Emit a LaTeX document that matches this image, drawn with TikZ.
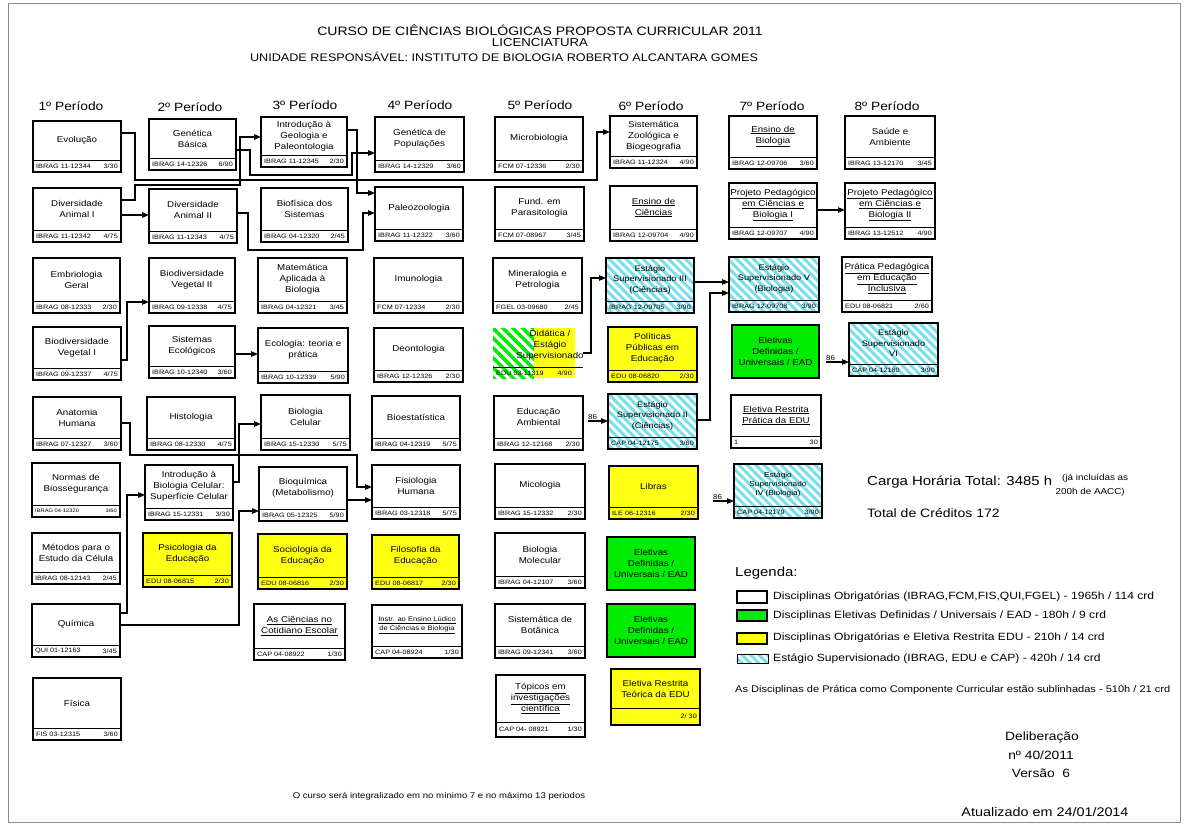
\documentclass[tikz,border=0pt]{standalone}
\usepackage{fontspec}
\setmainfont{Liberation Sans}[FakeStretch=1.15]
\usetikzlibrary{arrows.meta,patterns.meta}
\definecolor{yel}{RGB}{255,255,20}
\definecolor{grn}{RGB}{0,236,0}
\definecolor{cya}{RGB}{120,224,234}
\newcommand{\ulx}[1]{\underline{#1}}
\def\striph{12}
% #1 name, #2 x1, #3 y1, #4 x2, #5 y2, #6 style, #7 title, #8 code, #9 credits
\newcommand{\crs}[9]{%
  \node[#6, minimum width={(#4-#2)*1pt}, minimum height={(#5-#3)*1pt}] (#1) at ({(#2+#4)/2},{(#3+#5)/2}) {};
  \draw[divline] (#2,{#5-\striph}) -- (#4,{#5-\striph});
  \node[ttl] (#1-t) at ({(#2+#4)/2},{(#3+#5-\striph)/2}) {#7};
  \node[cd, anchor=west] (#1-c) at ({#2+3},{#5-\striph/2+0.2}) {#8};
  \node[cd, anchor=east] (#1-k) at ({#4-3},{#5-\striph/2+0.2}) {#9};
}
\newcommand{\elet}[5]{%
  \node[gbox, ttl, minimum width={(#4-#2)*1pt}, minimum height={(#5-#3)*1pt}] (#1) at ({(#2+#4)/2},{(#3+#5)/2}) {Eletivas\\Definidas /\\Universais / EAD};
}
\begin{document}
\begin{tikzpicture}[x=1pt,y=-1pt,
  base/.style={draw=black, line width=2pt, inner sep=0pt, outer sep=0pt},
  wbox/.style={base, fill=white},
  ybox/.style={base, fill=yel},
  gbox/.style={base, fill=grn},
  cbox/.style={base, preaction={fill=cya}, pattern={Lines[angle=-45,distance=6pt,line width=2.7pt]}, pattern color=white},
  ghatch/.style={preaction={fill=white}, pattern={Lines[angle=-45,distance=7pt,line width=3.5pt]}, pattern color=grn},
  divline/.style={line width=0.9pt},
  ttl/.style={font=\fontsize{8.5}{11}\selectfont, align=center, inner sep=0pt},
  cd/.style={font=\fontsize{6.3}{7}\selectfont, inner sep=0pt},
  hdr/.style={font=\fontsize{12}{14}\selectfont, inner sep=0pt},
  conn/.style={line width=1.1pt, -{Triangle[length=7pt,width=5.5pt]}},
  txt/.style={inner sep=0pt}
]
\useasboundingbox (0,0) rectangle (1187,825);
\fill[white] (0,0) rectangle (1187,825);
\draw[black!45, line width=1pt] (8,3) rectangle (1180,822);

% Titles
\node[txt, font=\fontsize{12.2}{14}\selectfont] (t1) at (540,30) {CURSO DE CIÊNCIAS BIOLÓGICAS PROPOSTA CURRICULAR 2011};
\node[txt, font=\fontsize{11.5}{13}\selectfont] (t2) at (540,43) {LICENCIATURA};
\node[txt, font=\fontsize{11}{13}\selectfont] (t3) at (504,57) {UNIDADE RESPONSÁVEL: INSTITUTO DE BIOLOGIA ROBERTO ALCANTARA GOMES};

% Period headers
\node[hdr] (p1) at (71,106) {1º Período};
\node[hdr] (p2) at (190,107) {2º Período};
\node[hdr] (p3) at (305,105) {3º Período};
\node[hdr] (p4) at (420,105) {4º Período};
\node[hdr] (p5) at (540,105) {5º Período};
\node[hdr] (p6) at (651,106) {6º Período};
\node[hdr] (p7) at (772,106) {7º Período};
\node[hdr] (p8) at (887,106) {8º Período};

% Column 1
\crs{evol}{33}{121}{121}{172}{wbox}{Evolução}{IBRAG 11-12344}{3/30}
\crs{da1}{33}{188}{121}{242}{wbox}{Diversidade\\Animal I}{IBRAG 11-12342}{4/75}
\crs{embr}{33}{258}{120}{313}{wbox}{Embriologia\\Geral}{IBRAG 08-12333}{2/30}
\crs{bv1}{33}{327}{121}{380}{wbox}{Biodiversidade\\Vegetal I}{IBRAG 09-12337}{4/75}
\crs{anat}{33}{397}{121}{450}{wbox}{Anatomia\\Humana}{IBRAG 07-12327}{3/60}
\begin{scope}[cd/.append style={font=\fontsize{5}{6}\selectfont}]
\crs{norm}{32}{463}{120}{517}{wbox}{Normas de\\Biossegurança}{IBRAG 04-12320}{3/60}
\end{scope}
\crs{meto}{32}{533}{120}{584}{wbox}{Métodos para o\\Estudo da Célula}{IBRAG 08-12143}{2/45}
\crs{quim}{32}{604}{120}{657}{wbox}{Química}{QUI 01-12163}{3/45}
\crs{fis}{33}{678}{121}{740}{wbox}{Física}{FIS 03-12315}{3/60}

% Column 2
\crs{genb}{149}{119}{236}{170}{wbox}{Genética\\Básica}{IBRAG 14-12326}{6/90}
\crs{da2}{149}{189}{237}{243}{wbox}{Diversidade\\Animal II}{IBRAG 11-12343}{4/75}
\crs{bv2}{149}{258}{235}{313}{wbox}{Biodiversidade\\Vegetal II}{IBRAG 09-12338}{4/75}
\crs{sise}{149}{326}{235}{378}{wbox}{Sistemas\\Ecológicos}{IBRAG 10-12340}{3/60}
\crs{hist}{147}{397}{235}{450}{wbox}{Histologia}{IBRAG 08-12330}{4/75}
\crs{ibc}{145}{465}{233}{520}{wbox}{Introdução à\\Biologia Celular:\\Superfície Celular}{IBRAG 15-12331}{3/30}
\crs{psic}{143}{533}{232}{587}{ybox}{Psicologia da\\Educação}{EDU 08-06815}{2/30}

% Column 3
\crs{igp}{261}{117}{347}{167}{wbox}{Introdução à\\Geologia e\\Paleontologia}{IBRAG 11-12345}{2/30}
\crs{biof}{261}{188}{348}{242}{wbox}{Biofísica dos\\Sistemas}{IBRAG 04-12320}{2/45}
\crs{mat}{258}{258}{347}{313}{wbox}{Matemática\\Aplicada à\\Biologia}{IBRAG 04-12321}{3/45}
\crs{eco}{258}{328}{348}{383}{wbox}{Ecologia: teoria e\\prática}{IBRAG 10-12339}{5/90}
\crs{bcel}{261}{395}{350}{450}{wbox}{Biologia\\Celular}{IBRAG 15-12330}{5/75}
\crs{bioq}{259}{467}{347}{521}{wbox}{Bioquímica\\(Metabolismo)}{IBRAG 05-12325}{5/90}
\crs{soci}{258}{534}{347}{589}{ybox}{Sociologia da\\Educação}{EDU 08-06816}{2/30}
\crs{cien}{254}{604}{345}{660}{wbox}{\ulx{As Ciências no}\\\ulx{Cotidiano Escolar}}{CAP 04-08922}{1/30}

% Column 4
\crs{gpop}{375}{117}{464}{172}{wbox}{Genética de\\Populações}{IBRAG 14-12329}{3/60}
\crs{paleo}{375}{187}{463}{241}{wbox}{Paleozoologia}{IBRAG 11-12322}{3/60}
\crs{imun}{374}{258}{463}{313}{wbox}{Imunologia}{FCM 07-12334}{2/30}
\crs{deon}{374}{328}{463}{382}{wbox}{Deontologia}{IBRAG 12-12326}{2/30}
\crs{bioe}{372}{396}{460}{450}{wbox}{Bioestatística}{IBRAG 04-12319}{5/75}
\crs{fisio}{372}{465}{460}{519}{wbox}{Fisiologia\\Humana}{IBRAG 03-12318}{5/75}
\crs{filo}{372}{535}{459}{589}{ybox}{Filosofia da\\Educação}{EDU 08-06817}{2/30}
\begin{scope}[ttl/.append style={font=\fontsize{6.6}{9}\selectfont}]
\crs{ludi}{372}{605}{462}{658}{wbox}{\ulx{Instr. ao Ensino Lúdico}\\\ulx{de Ciências e Biologia}}{CAP 04-08924}{1/30}
\end{scope}

% Column 5
\crs{micro}{495}{117}{583}{172}{wbox}{Microbiologia}{FCM 07-12336}{2/30}
\crs{para}{495}{187}{584}{241}{wbox}{Fund. em\\Parasitologia}{FCM 07-08967}{3/45}
\crs{mine}{493}{258}{582}{313}{wbox}{Mineralogia e\\Petrologia}{FGEL 03-09680}{2/45}
% Didatica (special)
\fill[ghatch] (493,328) rectangle (534,378);
\fill[yel] (534,328) rectangle (575,378);
\draw[divline] (493,367) -- (583,367);
\node[inner sep=0pt, outer sep=0pt, minimum width=90pt, minimum height=50pt] (dida) at (538,353) {};
\node[ttl] (dida-t) at (550,345) {Didática /\\Estágio\\Supervisionado};
\node[cd, anchor=west] (dida-c) at (496,373) {EDU 03-11319};
\node[cd, anchor=east] (dida-k) at (572,373) {4/90};
\crs{eamb}{494}{396}{583}{450}{wbox}{Educação\\Ambiental}{IBRAG 12-12168}{2/30}
\crs{mico}{495}{464}{585}{519}{wbox}{Micologia}{IBRAG 15-12332}{2/30}
\crs{bmol}{495}{533}{585}{588}{wbox}{Biologia\\Molecular}{IBRAG 04-12107}{3/60}
\crs{sbot}{495}{604}{585}{658}{wbox}{Sistemática de\\Botânica}{IBRAG 09-12341}{3/60}
\begin{scope}\def\striph{15}
\crs{topi}{496}{675}{585}{737}{wbox}{\ulx{Tópicos em}\\\ulx{investigações}\\\ulx{científica}}{CAP 04- 08921}{1/30}
\end{scope}

% Column 6
\crs{szb}{610}{116}{697}{168}{wbox}{Sistemática\\Zoológica e\\Biogeografia}{IBRAG 11-12324}{4/90}
\crs{ecie}{610}{186}{697}{241}{wbox}{\ulx{Ensino de}\\\ulx{Ciências}}{IBRAG 12-09704}{4/90}
\begin{scope}[ttl/.append style={font=\fontsize{8}{10.5}\selectfont}]
\crs{est3}{606}{258}{694}{313}{cbox}{Estágio\\Supervisionado III\\(Ciências)}{IBRAG 12-09705}{3/90}
\crs{est2}{608}{394}{697}{449}{cbox}{Estágio\\Supervisionado II\\(Ciências)}{CAP 04-12175}{3/60}
\crs{est5}{729}{257}{819}{312}{cbox}{Estágio\\Supervisionado V\\(Biologia)}{IBRAG 12-09708}{3/90}
\crs{est6}{849}{323}{938}{376}{cbox}{Estágio\\Supervisionado\\VI}{CAP 04-12180}{3/90}
\end{scope}
\begin{scope}[ttl/.append style={font=\fontsize{7.2}{9}\selectfont}]
\crs{est4}{734}{464}{822}{518}{cbox}{Estágio\\Supervisionado\\IV (Biologia)}{CAP 04-12179}{3/90}
\end{scope}
\crs{polp}{608}{327}{697}{382}{ybox}{Políticas\\Públicas em\\Educação}{EDU 08-06820}{2/30}
\crs{libr}{609}{466}{698}{519}{ybox}{Libras}{ILE 06-12316}{2/30}
\elet{el1}{607}{537}{695}{590}
\elet{el2}{607}{604}{695}{657}
\begin{scope}\def\striph{17}
\crs{ertc}{611}{669}{700}{725}{ybox}{Eletiva Restrita\\Teórica da EDU}{}{2/ 30}
\end{scope}

% Column 7
\crs{ebio}{729}{116}{817}{169}{wbox}{\ulx{Ensino de}\\\ulx{Biologia}}{IBRAG 12-09706}{3/60}
\crs{pp1}{729}{183}{817}{239}{wbox}{\ulx{Projeto Pedagógico}\\\ulx{em Ciências e}\\\ulx{Biologia I}}{IBRAG 12-09707}{4/90}
\elet{el3}{732}{325}{819}{378}
\crs{erp}{731}{395}{821}{448}{wbox}{\ulx{Eletiva Restrita}\\\ulx{Prática da EDU}}{1}{30}

% Column 8
\crs{saude}{845}{116}{935}{169}{wbox}{Saúde e\\Ambiente}{IBRAG 13-12170}{3/45}
\crs{pp2}{845}{183}{935}{239}{wbox}{\ulx{Projeto Pedagógico}\\\ulx{em Ciências e}\\\ulx{Biologia II}}{IBRAG 13-12512}{4/90}
\crs{ppei}{842}{257}{932}{312}{wbox}{\ulx{Prática Pedagógica}\\\ulx{em Educação}\\\ulx{Inclusiva}}{EDU 08-06821}{2/60}

% Connectors
\draw[conn] (evol.east |- 0,133) -| (135,180) -| (597,132) -- (szb.west |- 0,132);
\draw[conn] (da1.east |- 0,200) -| (135,185) -| (240,137) -- (igp.west |- 0,137);
\draw[conn] (genb.east |- 0,150) -| (250,175) -| (352,153) -- (gpop.west |- 0,153);
\draw[conn] (igp.east |- 0,130) -| (357,193) -- (paleo.west |- 0,193);
\draw[conn] (da2.east |- 0,213) -| (248,250) -| (363,213) -- (paleo.west |- 0,213);
\draw[conn] (da1.east |- 0,215) -- (da2.west |- 0,215);
\draw[conn] (bv1.east |- 0,360) -| (127,302) -- (bv2.west |- 0,302);
\draw[conn] (sise.east |- 0,354) -- (eco.west |- 0,354);
\draw[conn] (anat.east |- 0,423) -| (130,455) -| (357,487) -- (fisio.west |- 0,487);
\draw[conn] (ibc.east |- 0,482) -| (239,424) -- (bcel.west |- 0,424);
\draw[conn] (quim.east |- 0,613) -| (127,495) -- (ibc.west |- 0,495);
\draw[conn] (quim.east |- 0,625) -| (239,511) -- (bioq.west |- 0,511);
\draw[conn] (bioq.east |- 0,500) -- (fisio.west |- 0,500);
\draw[conn] (dida.east |- 0,353) -| (591,278) -- (est3.west |- 0,278);
\draw[conn] (est3.east |- 0,282) -- (est5.west |- 0,282);
\draw[conn] (est2.east |- 0,420) -| (710,293) -- (est5.west |- 0,293);
\draw[conn] (pp1.east |- 0,210) -- (pp2.west |- 0,210);
\coordinate (in2) at (588,421);
\coordinate (in6) at (826,362);
\coordinate (in4) at (713,501);
\draw[conn] (in2) -- (est2.west |- in2);
\draw[conn] (in6) -- (est6.west |- in6);
\draw[conn] (in4) -- (est4.west |- in4);
\node[cd, font=\fontsize{7}{8}\selectfont, anchor=south west] (l86a) at ([yshift=1pt]in2) {86};
\node[cd, font=\fontsize{7}{8}\selectfont, anchor=south west] (l86b) at ([yshift=1pt]in6) {86};
\node[cd, font=\fontsize{7}{8}\selectfont, anchor=south west] (l86c) at ([yshift=1pt]in4) {86};

% Totals
\node[txt, anchor=west, font=\fontsize{13}{15}\selectfont] (carga) at (867,482) {Carga Horária Total: 3485 h};
\node[txt, anchor=west, font=\fontsize{8.6}{10}\selectfont] (incl) at (1062,478) {(já incluídas as};
\node[txt, anchor=east, font=\fontsize{8.6}{10}\selectfont] (aacc) at (1125,492) {200h de AACC)};
\node[txt, anchor=west, font=\fontsize{12.2}{14}\selectfont] (cred) at (867,513) {Total de Créditos 172};

% Legend
\node[txt, anchor=west, font=\fontsize{13}{15}\selectfont] (leg) at (735,573) {Legenda:};
\node[wbox, minimum width=30pt, minimum height=12pt] (lg1) at (752,597) {};
\node[gbox, minimum width=30pt, minimum height=11pt] (lg2) at (752,615) {};
\node[ybox, minimum width=30pt, minimum height=11pt] (lg3) at (752,638) {};
\node[cbox, line width=1pt, minimum width=31pt, minimum height=9pt] (lg4) at (753,659) {};
\node[txt, anchor=west, font=\fontsize{10.5}{12}\selectfont] (lt1) at (773,597) {Disciplinas Obrigatórias (IBRAG,FCM,FIS,QUI,FGEL) - 1965h / 114 crd};
\node[txt, anchor=west, font=\fontsize{10.5}{12}\selectfont] (lt2) at (773,616) {Disciplinas Eletivas Definidas / Universais / EAD - 180h / 9 crd};
\node[txt, anchor=west, font=\fontsize{10.5}{12}\selectfont] (lt3) at (773,638) {Disciplinas Obrigatórias e Eletiva Restrita EDU - 210h / 14 crd};
\node[txt, anchor=west, font=\fontsize{10.5}{12}\selectfont] (lt4) at (773,659) {Estágio Supervisionado (IBRAG, EDU e CAP) - 420h / 14 crd};
\node[txt, anchor=west, font=\fontsize{9.6}{11}\selectfont] (lt5) at (735,690) {As Disciplinas de Prática como Componente Curricular estão sublinhadas - 510h / 21 crd};

% Footer
\node[txt, font=\fontsize{12}{14}\selectfont] (del1) at (1042,737) {Deliberação};
\node[txt, font=\fontsize{12}{14}\selectfont] (del2) at (1041,755) {nº 40/2011};
\node[txt, font=\fontsize{12}{14}\selectfont] (del3) at (1041,773) {Versão\ \ 6};
\node[txt, font=\fontsize{12.5}{14}\selectfont] (atu) at (1045,812) {Atualizado em 24/01/2014};
\node[txt, font=\fontsize{8.3}{10}\selectfont] (integ) at (439,796) {O curso será integralizado em no mínimo 7 e no máximo 13 periodos};
\end{tikzpicture}
\end{document}
